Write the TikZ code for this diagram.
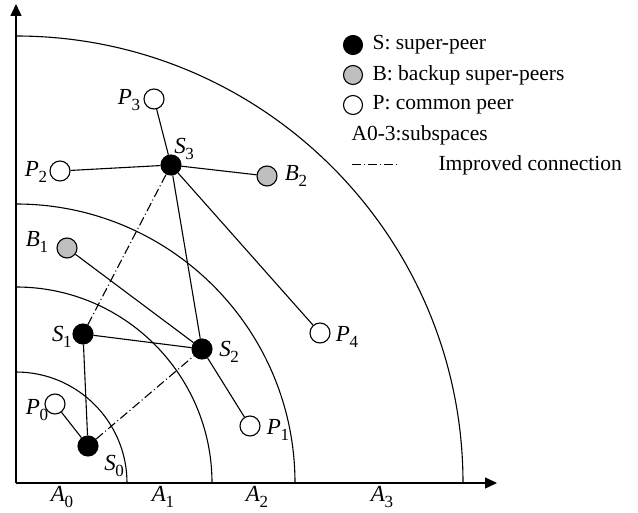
\documentclass[tikz,border=0pt]{standalone}
\usepackage{fontspec}
\setmainfont{Liberation Serif}
\usetikzlibrary{arrows.meta}
\newcommand\lbl[2]{{\itshape #1}\kern-0.5pt\raisebox{-0.28em}{\fontsize{17}{17}\selectfont #2}}
\begin{document}
\begin{tikzpicture}[x=1pt,y=-1pt,
  line width=1.1pt,
  sp/.style={circle,draw,fill=black,minimum size=20pt,inner sep=0pt},
  bp/.style={circle,draw,fill=black!25,minimum size=20pt,inner sep=0pt},
  cp/.style={circle,draw,fill=white,minimum size=20pt,inner sep=0pt},
  lab/.style={font=\fontsize{23}{23}\selectfont,inner sep=0pt},
  leg/.style={font=\fontsize{21.5}{21.5}\selectfont,inner sep=0pt,anchor=west},
  imp/.style={dash pattern=on 9pt off 3pt on 1pt off 3pt}]
\useasboundingbox (0,0) rectangle (638,513);
% axes
\coordinate (O) at (16,483);
\coordinate (xend) at (497,483);
\coordinate (yend) at (16,4);
\draw[line width=1.4pt,-{Triangle[length=12pt,width=11pt]}] (O) -- (xend);
\draw[line width=1.4pt,-{Triangle[length=12pt,width=11pt]}] (O) -- (yend);
% arcs
\draw (127,483) arc[start angle=0,end angle=-90,radius=111];
\draw (212,483) arc[start angle=0,end angle=-90,radius=196];
\draw (295,483) arc[start angle=0,end angle=-90,radius=279];
\draw (463,483) arc[start angle=0,end angle=-90,radius=447];
% nodes
\node[sp] (S0) at (88,446) {};
\node[cp] (P0) at (55,404) {};
\node[sp] (S1) at (83,334) {};
\node[sp] (S2) at (202,349) {};
\node[sp] (S3) at (171,165) {};
\node[bp] (B1) at (67,248) {};
\node[bp] (B2) at (267,176) {};
\node[cp] (P1) at (250,426) {};
\node[cp] (P2) at (60,171) {};
\node[cp] (P3) at (154,99) {};
\node[cp] (P4) at (320,333) {};
% edges
\draw (S0) -- (P0);
\draw (S0) -- (S1);
\draw (S1) -- (S2);
\draw (S2) -- (B1);
\draw (S2) -- (S3);
\draw (S2) -- (P1);
\draw (S3) -- (P2);
\draw (S3) -- (P3);
\draw (S3) -- (B2);
\draw (S3) -- (P4);
\draw[imp] (S0) -- (S2);
\draw[imp] (S1) -- (S3);
% labels
\node[lab] (lP3) at (129,100) {\lbl{P}{3}};
\node[lab] (lP2) at (36,172) {\lbl{P}{2}};
\node[lab] (lS3) at (184,149) {\lbl{S}{3}};
\node[lab] (lB2) at (296,176) {\lbl{B}{2}};
\node[lab] (lB1) at (37,242) {\lbl{B}{1}};
\node[lab] (lS1) at (62,337) {\lbl{S}{1}};
\node[lab] (lS2) at (229,352) {\lbl{S}{2}};
\node[lab] (lP4) at (347,337) {\lbl{P}{4}};
\node[lab] (lP0) at (37,410) {\lbl{P}{0}};
\node[lab] (lS0) at (114,466) {\lbl{S}{0}};
\node[lab] (lP1) at (278,430) {\lbl{P}{1}};
\node[lab] (lA0) at (62,497) {\lbl{A}{0}};
\node[lab] (lA1) at (163,497) {\lbl{A}{1}};
\node[lab] (lA2) at (257,497) {\lbl{A}{2}};
\node[lab] (lA3) at (382,497) {\lbl{A}{3}};
% legend
\node[sp,minimum size=19pt] (kS) at (353,45) {};
\node[bp,minimum size=19pt] (kB) at (353,75) {};
\node[cp,minimum size=19pt] (kP) at (353,105) {};
\node[leg] (tS) at (372,45) {S: super-peer};
\node[leg] (tB) at (372,75) {B: backup super-peers};
\node[leg] (tP) at (372,105) {P: common peer};
\node[leg] (tA) at (351,135) {A0-3:subspaces};
\coordinate (d1) at (352,165);
\coordinate (d2) at (400,165);
\draw[imp,line width=1pt] (d1) -- (d2);
\node[leg] (tI) at (438,165) {Improved connection};
\end{tikzpicture}
\end{document}
